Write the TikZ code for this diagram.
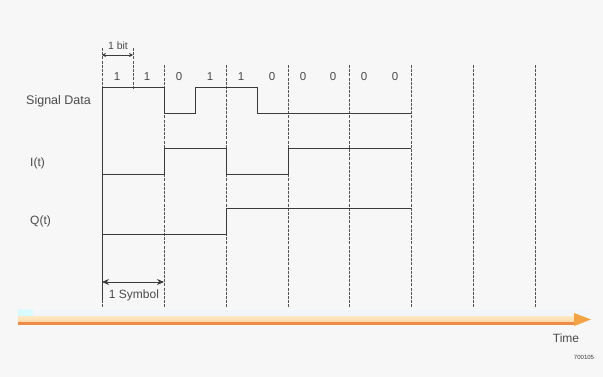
\documentclass[tikz,border=0pt]{standalone}
\usepackage{fontspec}
\setmainfont{Liberation Sans}
\usetikzlibrary{arrows.meta}
\definecolor{bg}{HTML}{F7F7F7}
\definecolor{sig}{HTML}{3A3A3A}
\definecolor{grid}{HTML}{555555}
\definecolor{txt}{HTML}{4A4A4A}
\definecolor{barpale}{HTML}{F2F6FA}
\definecolor{barlight}{HTML}{FFE9C4}
\definecolor{barmid}{HTML}{FDD9A8}
\definecolor{barorange}{HTML}{EE8A48}
\definecolor{headorange}{HTML}{F2A444}
\tikzset{
  gridline/.style={grid, line width=0.8pt, dash pattern=on 3pt off 1.2pt},
  sigline/.style={sig, line width=1pt},
  lbl/.style={font=\fontsize{12}{14}\selectfont, text=txt, inner sep=0pt},
  bitlbl/.style={font=\fontsize{11.5}{13}\selectfont, text=txt, inner sep=0pt},
  dim/.style={sig, line width=1pt, {Stealth[length=7pt,width=6pt]}-{Stealth[length=7pt,width=6pt]}},
}
\begin{document}
\begin{tikzpicture}[x=1pt,y=-1pt]
\fill[bg] (0,0) rectangle (603,377);
\useasboundingbox (0,0) rectangle (603,377);

% vertical grid lines
\foreach \x in {102,164,226,288,349,411,473,535}{
  \draw[gridline] (\x,65) -- (\x,308);
}
\draw[gridline] (102,48) -- (102,65);
\draw[gridline] (133,48) -- (133,90);

% 1 bit dimension
\coordinate (b1) at (102,55);
\coordinate (b2) at (133,55);
\draw[sig, line width=0.8pt, {Stealth[length=4pt,width=4pt]}-{Stealth[length=4pt,width=4pt]}] (b1) -- (b2);
\node[lbl, font=\fontsize{10.5}{12}\selectfont] (bit) at (118,46) {1 bit};

% bit labels
\foreach \x/\b in {117/1,147/1,179/0,210/1,241/1,272/0,303/0,333/0,364/0,395/0}{
  \node[bitlbl] at (\x,77) {\b};
}

% row labels
\node[lbl, anchor=west, font=\fontsize{12.5}{14}\selectfont] (sd) at (26,101) {Signal Data};
\node[lbl, anchor=west] (it) at (30,163) {I(t)};
\node[lbl, anchor=west] (qt) at (30,221) {Q(t)};

% Signal Data waveform
\draw[sigline] (102,300) -- (102,88) -- (164,88) -- (164,114) -- (195,114) -- (195,88)
  -- (257,88) -- (257,114) -- (411,114);

% I(t)
\draw[sigline] (102,175) -- (164,175) -- (164,149) -- (226,149) -- (226,175)
  -- (288,175) -- (288,149) -- (411,149);

% Q(t)
\draw[sigline] (102,235) -- (226,235) -- (226,209) -- (411,209);

% 1 Symbol dimension
\coordinate (s1) at (102,282);
\coordinate (s2) at (164,282);
\draw[dim] (s1) -- (s2);
\node[lbl] (sym) at (134,295) {1 Symbol};

% Time bar
\fill[barpale] (18,310) rectangle (590,316);
\fill[blue!10!cyan!15] (18,309) rectangle (33,316);
\shade[top color=barlight, bottom color=barmid] (18,316) rectangle (578,322);
\fill[barorange] (18,322) rectangle (578,325);
\fill[headorange] (574,313) -- (591,319.5) -- (574,326) -- cycle;
\node[lbl] (time) at (566,338) {Time};
\node[inner sep=1pt, font=\fontsize{6}{7}\selectfont, text=sig] (fig) at (584,357) {700105};
\end{tikzpicture}
\end{document}
